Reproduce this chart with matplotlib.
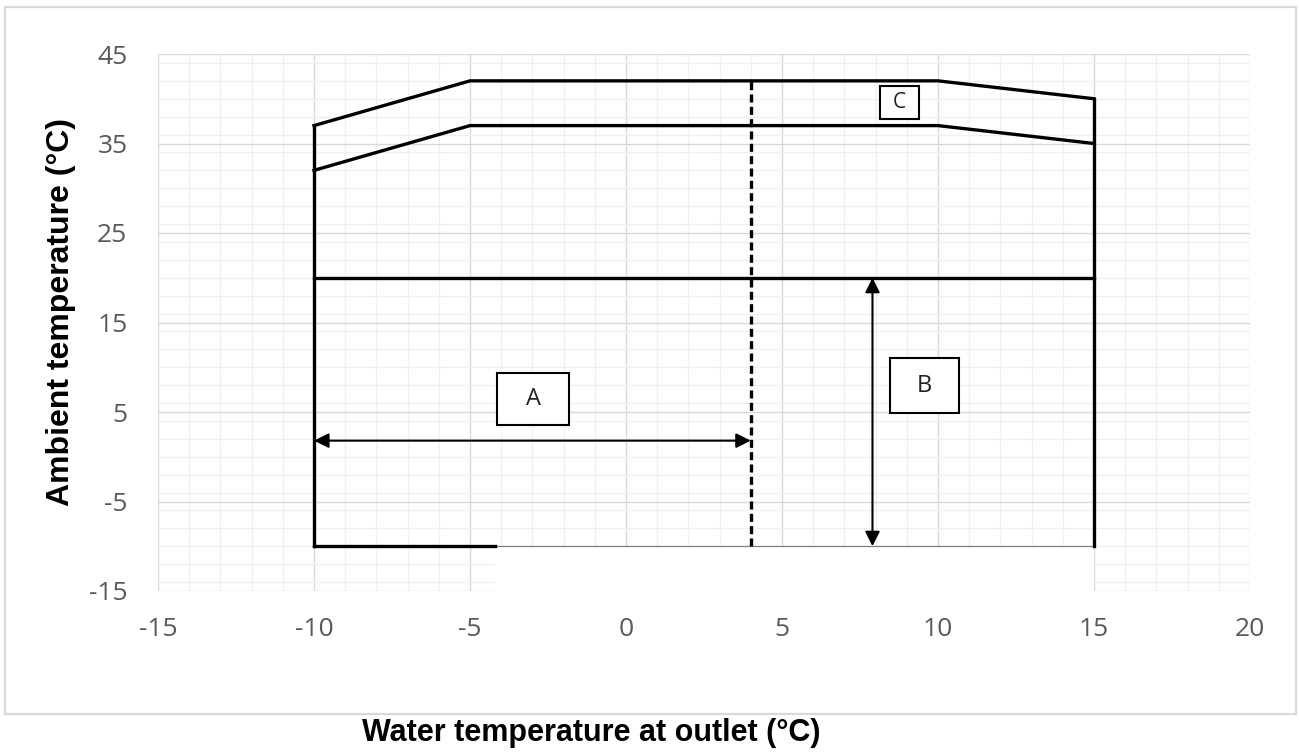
import matplotlib
matplotlib.use("Agg")
import matplotlib.pyplot as plt
from matplotlib.patches import Rectangle
from matplotlib.ticker import MultipleLocator
import numpy as np

plt.rcParams["axes.unicode_minus"] = False

# ---- data ----
x_ticks = [-15, -10, -5, 0, 5, 10, 15, 20]
y_ticks = [-15, -5, 5, 15, 25, 35, 45]

upper_x = [-10, -5, 10, 15]
upper_y = [37, 42, 42, 40]
lower_x = [-10, -5, 10, 15]
lower_y = [32, 37, 37, 35]
left_x = [-10, -10]
left_y = [-10, 37]
right_x = [15, 15]
right_y = [-10, 40]
mid_x = [-10, 15]
mid_y = [20, 20]
bottom_x = [-10, -4.2]
bottom_y = [-10, -10]
dashed_x = [4, 4]
dashed_y = [-10, 42]

arrowA_x = [-10, 4]
arrowA_y = [1.8, 1.8]
arrowB_x = [7.9, 7.9]
arrowB_y = [-10, 20]

box_labels = ["A", "B", "C"]
box_x0 = [-4.12, 8.46, 8.14]
box_x1 = [-1.84, 10.67, 9.39]
box_y0 = [3.5, 4.9, 37.7]
box_y1 = [9.4, 11.0, 41.4]
box_fs = [17, 17, 15]

W, H = 1299, 756
fig = plt.figure(figsize=(W / 100, H / 100), dpi=100)
fig.patch.set_facecolor("white")

# outer chart border
fig.patches.append(Rectangle((5 / W, 1 - 714 / H), (1296 - 5) / W, (714 - 7) / H,
                             transform=fig.transFigure, fill=False,
                             edgecolor="#d9d9d9", lw=1.6, zorder=0))

ax = fig.add_axes([158 / W, 1 - 591 / H, (1250 - 158) / W, (591 - 54) / H])
ax.set_xlim(-15, 20)
ax.set_ylim(-15, 45)
ax.set_xticks(x_ticks)
ax.set_yticks(y_ticks)
ax.xaxis.set_minor_locator(MultipleLocator(1))
ax.yaxis.set_minor_locator(MultipleLocator(2))
ax.set_axisbelow(True)
ax.grid(which="major", color="#d9d9d9", lw=1.0, zorder=0.5)
ax.grid(which="minor", color="#f0f0f0", lw=1.0, zorder=0.4)
for s in ax.spines.values():
    s.set_visible(False)
ax.tick_params(which="both", length=0)
ax.tick_params(axis="x", pad=19, labelsize=19, labelcolor="#595959")
ax.tick_params(axis="y", pad=22, labelsize=19, labelcolor="#595959")
for lab in ax.get_xticklabels() + ax.get_yticklabels():
    lab.set_fontfamily("Open Sans")

# white patch covering the bottom strip
ax.add_patch(Rectangle((bottom_x[1], -15.6), right_x[0] - bottom_x[1], 5.6,
                       facecolor="white", edgecolor="none", zorder=1, clip_on=False))
ax.plot([bottom_x[1], right_x[0]], [-10, -10], color="#7f7f7f", lw=0.9, zorder=2)

lw = 2.4
for xs, ys in [(upper_x, upper_y), (lower_x, lower_y), (left_x, left_y),
               (right_x, right_y), (mid_x, mid_y), (bottom_x, bottom_y)]:
    ax.plot(xs, ys, color="black", lw=lw, solid_capstyle="projecting",
            solid_joinstyle="miter", zorder=3)
ax.plot(dashed_x, dashed_y, color="black", lw=lw, linestyle=(0, (2.4, 1.3)), zorder=3)

for xs, ys in [(arrowA_x, arrowA_y), (arrowB_x, arrowB_y)]:
    ax.annotate("", xy=(xs[1], ys[1]), xytext=(xs[0], ys[0]),
                arrowprops=dict(arrowstyle="<|-|>", color="black", lw=1.5,
                                mutation_scale=22, shrinkA=0, shrinkB=0),
                zorder=4)

for lab, x0, x1, y0, y1, fs in zip(box_labels, box_x0, box_x1, box_y0, box_y1, box_fs):
    ax.add_patch(Rectangle((x0, y0), x1 - x0, y1 - y0, facecolor="white",
                           edgecolor="black", lw=1.5, zorder=5))
    ax.text((x0 + x1) / 2, (y0 + y1) / 2, lab, ha="center", va="center",
            fontsize=fs, family="Open Sans", color="#222222", zorder=6)

fig.text(591 / W, 1 - 733 / H, "Water temperature at outlet (°C)", ha="center", va="center",
         fontsize=22, fontweight="bold", family="Liberation Sans")
fig.text(61 / W, 1 - 312 / H, "Ambient temperature (°C)", ha="center", va="center",
         rotation=90, fontsize=23, fontweight="bold", family="Liberation Sans")

fig.savefig("out.png", dpi=100)
